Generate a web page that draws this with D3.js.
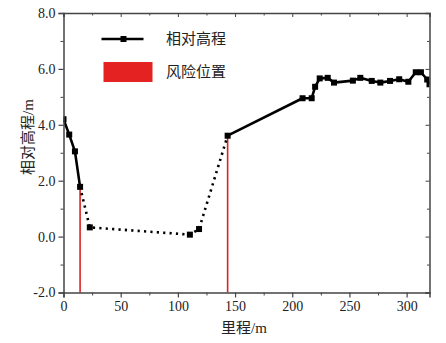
<!DOCTYPE html>
<html><head><meta charset="utf-8">
<script src="https://cdn.jsdelivr.net/npm/d3@7"></script>
<style>
body{margin:0;background:#fff;}
svg text{font-family:'Times New Roman','Liberation Serif','DejaVu Serif','Noto Sans CJK SC',serif;}
</style></head>
<body><svg id="c" width="446" height="343"></svg>
<script>
const mileage = [0, 5, 10, 14.5, 23, 110.5, 118.5, 143.5, 209, 217, 220, 224, 231, 236.5, 253, 259.5, 269.5, 277, 285.5, 293.5, 301.5, 308, 312.5, 318, 320];
const elevation = [4.2, 3.65, 3.05, 1.78, 0.33, 0.07, 0.27, 3.61, 4.95, 4.95, 5.36, 5.66, 5.68, 5.51, 5.58, 5.68, 5.57, 5.51, 5.57, 5.63, 5.54, 5.88, 5.88, 5.62, 5.45];
const riskPositions = [14.5, 143.5];
const xTicks = [0, 50, 100, 150, 200, 250, 300];
const yTicks = [-2, 0, 2, 4, 6, 8];
const legendLabels = ["相对高程", "风险位置"];
const xLabel = "里程/m";
const yLabel = "相对高程/m";

(function(){
const svg = d3.select("#c");
const L = 63.5, R = 429.5, T = 13, B = 292.5;
const x = d3.scaleLinear().domain([0, 320]).range([L, R]);
const y = d3.scaleLinear().domain([-2, 8]).range([B, T]);
const axisColor = "#444";
const serif = "'Times New Roman','Liberation Serif','DejaVu Serif',serif";

const pts = mileage.map((m, i) => ({m, e: elevation[i]}));
const [r0, r1] = riskPositions;

svg.append("defs").append("clipPath").attr("id","pc")
  .append("rect").attr("x", L).attr("y", T).attr("width", R - L).attr("height", B - T);
riskPositions.forEach(r => {
  const p = pts.find(d => d.m === r);
  svg.append("line").attr("x1", x(r)).attr("x2", x(r)).attr("y1", y(-2)).attr("y2", y(p.e))
    .attr("stroke", "#dd2222").attr("stroke-width", 1.6);
});

const g = svg.append("g").attr("clip-path", "url(#pc)");
const line = d3.line().x(d => x(d.m)).y(d => y(d.e));
const seg1 = pts.filter(d => d.m <= r0);
const seg2 = pts.filter(d => d.m >= r0 && d.m <= r1);
const seg3 = pts.filter(d => d.m >= r1);
[seg1, seg3].forEach(s => g.append("path").attr("d", line(s)).attr("fill","none")
  .attr("stroke","#000").attr("stroke-width",2.6).attr("stroke-linejoin","round"));
g.append("path").attr("d", line(seg2)).attr("fill","none").attr("stroke","#000")
  .attr("stroke-width",2.6).attr("stroke-dasharray","2.2,4.2");
g.selectAll("rect.mk").data(pts).enter().append("rect").attr("class","mk")
  .attr("x", d => x(d.m) - 3).attr("y", d => y(d.e) - 3).attr("width", 6).attr("height", 6).attr("fill","#000");

const ax = (sel) => sel.attr("font-family", serif).selectAll(".domain").attr("stroke", axisColor).attr("stroke-width", 1.5);
const styleTicks = (sel) => { sel.selectAll(".tick line").attr("stroke", axisColor).attr("stroke-width", 1.2);
  sel.selectAll(".tick text").attr("fill","#222").attr("font-family", serif).style("font-family", serif).style("font-size","14px"); };

const xMinor = d3.range(25, 320, 50);
const yMinor = d3.range(-1, 8, 2);
const fmtY = d => d3.format(".1f")(d).replace("\u2212", "-");

const gBottom = svg.append("g").attr("transform", `translate(0,${B})`)
  .call(d3.axisBottom(x).tickValues(xTicks).tickFormat(d3.format("d")).tickSizeOuter(0).tickSize(5).tickPadding(4));
ax(gBottom); styleTicks(gBottom);
svg.append("g").attr("transform", `translate(0,${B})`)
  .call(d3.axisBottom(x).tickValues(xMinor).tickFormat("").tickSize(3).tickSizeOuter(0))
  .call(s => { s.select(".domain").remove(); s.selectAll("line").attr("stroke", axisColor); });

const gLeft = svg.append("g").attr("transform", `translate(${L},0)`)
  .call(d3.axisLeft(y).tickValues(yTicks).tickFormat(fmtY).tickSizeOuter(0).tickSize(5).tickPadding(3));
ax(gLeft); styleTicks(gLeft);
svg.append("g").attr("transform", `translate(${L},0)`)
  .call(d3.axisLeft(y).tickValues(yMinor).tickFormat("").tickSize(3).tickSizeOuter(0))
  .call(s => { s.select(".domain").remove(); s.selectAll("line").attr("stroke", axisColor); });

const gTop = svg.append("g").attr("transform", `translate(0,${T})`)
  .call(d3.axisBottom(x).tickValues(xTicks).tickFormat("").tickSizeOuter(0).tickSize(4));
ax(gTop); gTop.selectAll("line").attr("stroke", axisColor);
svg.append("g").attr("transform", `translate(0,${T})`)
  .call(d3.axisBottom(x).tickValues(xMinor).tickFormat("").tickSize(2.5).tickSizeOuter(0))
  .call(s => { s.select(".domain").remove(); s.selectAll("line").attr("stroke", axisColor); });

const gRight = svg.append("g").attr("transform", `translate(${R},0)`)
  .call(d3.axisLeft(y).tickValues(yTicks).tickFormat("").tickSizeOuter(0).tickSize(4));
ax(gRight); gRight.selectAll("line").attr("stroke", axisColor);
svg.append("g").attr("transform", `translate(${R},0)`)
  .call(d3.axisLeft(y).tickValues(yMinor).tickFormat("").tickSize(2.5).tickSizeOuter(0))
  .call(s => { s.select(".domain").remove(); s.selectAll("line").attr("stroke", axisColor); });

svg.append("text").attr("x", 244).attr("y", 333).attr("text-anchor","middle")
  .style("font-size","15px").attr("fill","#222").text(xLabel);
svg.append("text").attr("transform","translate(33,137) rotate(-90)").attr("text-anchor","middle")
  .style("font-size","15px").attr("fill","#222").text(yLabel);

svg.append("line").attr("x1",101.5).attr("x2",143.5).attr("y1",39).attr("y2",39)
  .attr("stroke","#000").attr("stroke-width",2.6);
svg.append("rect").attr("x",120.5).attr("y",36).attr("width",6).attr("height",6).attr("fill","#000");
svg.append("text").attr("x",166).attr("y",44).style("font-size","15px").attr("fill","#222").text(legendLabels[0]);
svg.append("rect").attr("x",103.5).attr("y",62).attr("width",49).attr("height",20).attr("fill","#e42222");
svg.append("text").attr("x",166).attr("y",77).style("font-size","15px").attr("fill","#222").text(legendLabels[1]);
})();
</script></body></html>
